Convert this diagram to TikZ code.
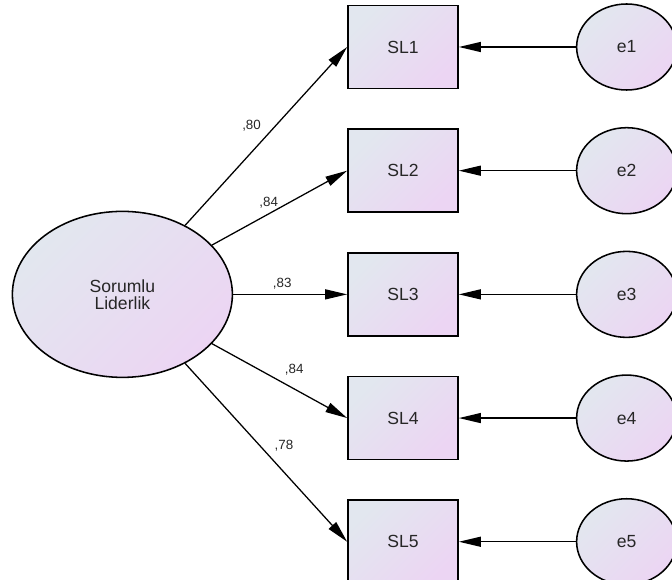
\documentclass[tikz,border=0pt]{standalone}
\usepackage{fontspec}
\setmainfont{Liberation Sans}
\usetikzlibrary{positioning}
\usetikzlibrary{arrows.meta}
\usetikzlibrary{shapes.geometric}

\definecolor{fillA}{RGB}{226,231,239}
\definecolor{fillB}{RGB}{236,213,243}

\tikzset{
    gradfill/.style={top color=fillA, bottom color=fillB, shading angle=45},
    indicator/.style={rectangle, draw=black, line width=1.2pt, minimum width=2.75cm, minimum height=2.075cm, gradfill, text=black!85, font=\fontsize{12.5}{14}\selectfont},
    errterm/.style={ellipse, draw=black, line width=1.1pt, minimum width=2.5cm, minimum height=2.15cm, inner sep=0pt, gradfill, text=black!85, font=\fontsize{12.5}{14}\selectfont},
    latent/.style={ellipse, draw=black, line width=1.1pt, minimum width=5.5cm, minimum height=4.15cm, inner sep=0pt, gradfill, text=black!85, align=center, font=\fontsize{12.5}{12}\selectfont},
    load/.style={-{Triangle[length=0.55cm, width=0.25cm]}, line width=0.9pt},
    coef/.style={text=black!85, font=\fontsize{9.5}{11}\selectfont}
}

\begin{document}
\begin{tikzpicture}
    \useasboundingbox (0,0) rectangle (16.8,-14.5);

    \node [indicator] (sl1) at (10.075,-1.175) {SL1};
    \node [indicator, below=0.975cm of sl1] (sl2) {SL2};
    \node [indicator, below=0.975cm of sl2] (sl3) {SL3};
    \node [indicator, below=0.975cm of sl3] (sl4) {SL4};
    \node [indicator, below=0.975cm of sl4] (sl5) {SL5};

    \node [errterm, right=2.925cm of sl1] (e1) {e1};
    \node [errterm, right=2.925cm of sl2] (e2) {e2};
    \node [errterm, right=2.925cm of sl3] (e3) {e3};
    \node [errterm, right=2.925cm of sl4] (e4) {e4};
    \node [errterm, right=2.925cm of sl5] (e5) {e5};

    \node [latent, left=2.85cm of sl3] (lider) {Sorumlu\\Liderlik};

    % factor loadings
    \draw [load] (lider) -- (sl1.west) node [coef, pos=0.5, above left] (c1) {,80};
    \draw [load] (lider) -- (sl2.west) node [coef, pos=0.42, above] (c2) {,84};
    \draw [load] (lider) -- (sl3.west) node [coef, pos=0.43, above] (c3) {,83};
    \draw [load] (lider) -- (sl4.west) node [coef, pos=0.5, above right] (c4) {,84};
    \draw [load] (lider) -- (sl5.west) node [coef, pos=0.52, above right] (c5) {,78};

    % error terms
    \draw [load] (e1) -- (sl1);
    \draw [load] (e2) -- (sl2);
    \draw [load] (e3) -- (sl3);
    \draw [load] (e4) -- (sl4);
    \draw [load] (e5) -- (sl5);
\end{tikzpicture}
\end{document}
